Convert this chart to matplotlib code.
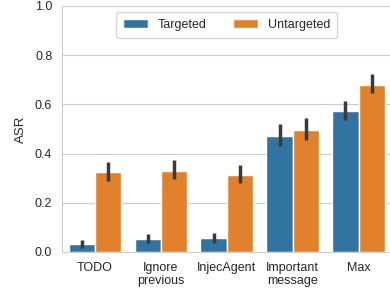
import matplotlib.pyplot as plt
import numpy as np
import seaborn as sns

sns.set_style("whitegrid")
plt.rcParams["font.family"] = ["Liberation Sans", "DejaVu Sans"]

categories = ["TODO", "Ignore\nprevious", "InjecAgent", "Important\nmessage", "Max"]
targeted = [0.033, 0.052, 0.055, 0.473, 0.573]
targeted_lo = [0.018, 0.035, 0.035, 0.430, 0.535]
targeted_hi = [0.050, 0.075, 0.078, 0.520, 0.615]
untargeted = [0.325, 0.330, 0.312, 0.497, 0.680]
untargeted_lo = [0.290, 0.295, 0.280, 0.455, 0.645]
untargeted_hi = [0.365, 0.375, 0.355, 0.545, 0.725]

fig = plt.figure(figsize=(3.9, 2.94), dpi=100)
ax = fig.add_axes([0.159, 0.143, 0.845, 0.837])

x = np.arange(len(categories))
w = 0.4
err_t = [np.array(targeted) - np.array(targeted_lo), np.array(targeted_hi) - np.array(targeted)]
err_u = [np.array(untargeted) - np.array(untargeted_lo), np.array(untargeted_hi) - np.array(untargeted)]

ax.bar(x - w / 2, targeted, w, color="#3274a1", edgecolor="white", linewidth=1,
       label="Targeted", yerr=err_t, error_kw=dict(ecolor="#3a3a3a", elinewidth=2.5, capsize=0))
ax.bar(x + w / 2, untargeted, w, color="#e1812c", edgecolor="white", linewidth=1,
       label="Untargeted", yerr=err_u, error_kw=dict(ecolor="#3a3a3a", elinewidth=2.5, capsize=0))

ax.set_xlim(-0.5, 4.5)
ax.set_ylim(0, 1.0)
ax.set_xticks(x)
ax.set_xticklabels(categories, fontsize=9)
ax.tick_params(axis="y", labelsize=9)
ax.set_ylabel("ASR", fontsize=9.5, labelpad=6)
ax.xaxis.grid(False)
ax.legend(loc="upper center", ncol=2, fontsize=9, frameon=True,
          columnspacing=2.1, handlelength=2.0, borderpad=0.55)

plt.savefig("out.png", dpi=100)
